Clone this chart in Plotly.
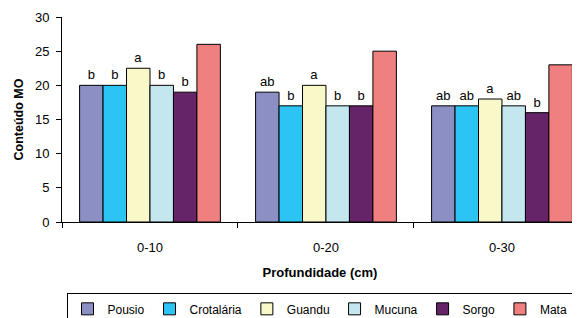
import plotly.graph_objects as go

categories = ["0-10", "0-20", "0-30"]
series_names = ["Pousio", "Crotalária", "Guandu", "Mucuna", "Sorgo", "Mata"]
pousio = [20, 19, 17]
crotalaria = [20, 17, 17]
guandu = [22.5, 20, 18]
mucuna = [20, 17, 17]
sorgo = [19, 17, 16]
mata = [26, 25, 23]
letters_pousio = ["b", "ab", "ab"]
letters_crotalaria = ["b", "b", "ab"]
letters_guandu = ["a", "a", "a"]
letters_mucuna = ["b", "b", "ab"]
letters_sorgo = ["b", "b", "b"]
letters_mata = ["", "", ""]
y_ticks = [0, 5, 10, 15, 20, 25, 30]

values = [pousio, crotalaria, guandu, mucuna, sorgo, mata]
letters = [letters_pousio, letters_crotalaria, letters_guandu,
           letters_mucuna, letters_sorgo, letters_mata]
colors = ["#8B8FC4", "#2CC4F2", "#F8F8C8", "#C4E6EE", "#652368", "#F08080"]

font_family = "Liberation Sans, Arial, sans-serif"

fig = go.Figure()
for name, vals, labs, col in zip(series_names, values, letters, colors):
    fig.add_trace(go.Bar(
        name=name, x=categories, y=vals, text=labs,
        textposition="outside", constraintext="none", cliponaxis=False,
        textfont=dict(family=font_family, size=13, color="black"),
        marker=dict(color=col, line=dict(color="black", width=1)),
    ))

fig.update_layout(
    width=572, height=310,
    margin=dict(l=54, r=2, t=9, b=96, autoexpand=False),
    paper_bgcolor="white", plot_bgcolor="white",
    barmode="group", bargap=0.2, bargroupgap=0,
    font=dict(family=font_family, size=13, color="black"),
    showlegend=True,
    legend=dict(orientation="h", x=0.5, xanchor="center", y=-0.348, yanchor="top",
                bordercolor="black", borderwidth=1, itemwidth=30,
                font=dict(size=12), traceorder="normal", tracegroupgap=0),
    xaxis=dict(range=[-0.5, 2.432], showline=True, linecolor="black", linewidth=1,
               ticks="outside", tickson="boundaries", ticklen=5, tickcolor="black",
               showgrid=False, zeroline=False, automargin=False,
               ticklabelstandoff=13,
               title=dict(text="<b>Profundidade (cm)</b>", font=dict(size=13), standoff=14),
               tickfont=dict(size=13)),
    yaxis=dict(range=[0, 30], tickvals=y_ticks, showline=True, linecolor="black",
               linewidth=1, ticks="outside", ticklen=5, tickcolor="black",
               showgrid=False, zeroline=False, automargin=False,
               ticklabelstandoff=4,
               title=dict(text="<b>Conteúdo MO</b>", font=dict(size=12.5), standoff=8),
               tickfont=dict(size=13)),
)

fig.write_html("out.html")
